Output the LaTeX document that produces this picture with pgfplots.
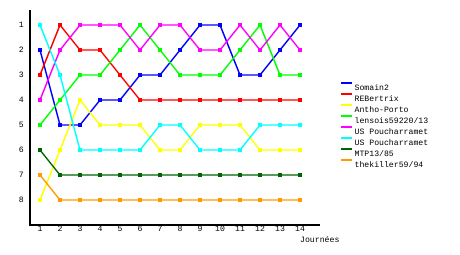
\documentclass[border=0pt]{standalone}
\usepackage{fontspec}
\setmainfont{Liberation Mono}
\usepackage{pgfplots}
\pgfplotsset{compat=1.18}
\definecolor{cBlue}{RGB}{0,0,255}
\definecolor{cRed}{RGB}{255,0,0}
\definecolor{cYellow}{RGB}{255,255,0}
\definecolor{cGreen}{RGB}{0,255,0}
\definecolor{cMagenta}{RGB}{255,0,255}
\definecolor{cCyan}{RGB}{0,255,255}
\definecolor{cDGreen}{RGB}{0,100,0}
\definecolor{cOrange}{RGB}{255,153,0}
\newcommand{\smallfont}{\fontsize{8.2}{10}\selectfont}
\begin{document}
\begin{tikzpicture}
\useasboundingbox (0,0) rectangle (460bp,255bp);
\begin{axis}[
  at={(30bp,30bp)}, anchor=south west,
  scale only axis, width=290bp, height=215bp,
  xmin=0.5, xmax=15, ymin=0.4, ymax=9,
  y dir=reverse,
  clip=false,
  axis line style={draw=none},
  major tick length=0pt,
  tick style={draw=none},
  xtick={1,...,14}, ytick={1,...,8},
  /pgf/number format/assume math mode=true,
  font=\smallfont,
  ticklabel style={font=\smallfont},
  xticklabel style={anchor=base, inner sep=0pt, yshift=-6bp},
  yticklabel style={anchor=base east, inner sep=0pt, xshift=-6bp, yshift=-2.5bp},
  xlabel={Journées},
  xlabel style={at={(axis description cs:0.931,0)}, anchor=base west, inner sep=0pt, yshift=-17bp, font=\smallfont},
  every axis plot/.append style={line width=1.4bp, mark=square*, mark size=1.4bp},
  legend style={at={(axis description cs:1.0586,0.674)}, anchor=north west, draw=none, fill=none,
    font=\smallfont, row sep=0pt,
    nodes={font=\smallfont, inner sep=1.5bp, text height=6bp, text depth=1bp}},
  legend cell align=left,
  legend image code/.code={\draw[#1, line width=2bp, mark=none] (0bp,5bp) -- (11bp,5bp);},
]
\addplot[cBlue] coordinates {(1,2)(2,5)(3,5)(4,4)(5,4)(6,3)(7,3)(8,2)(9,1)(10,1)(11,3)(12,3)(13,2)(14,1)};
\addlegendentry{Somain2}
\addplot[cRed] coordinates {(1,3)(2,1)(3,2)(4,2)(5,3)(6,4)(7,4)(8,4)(9,4)(10,4)(11,4)(12,4)(13,4)(14,4)};
\addlegendentry{REBertrix}
\addplot[cYellow] coordinates {(1,8)(2,6)(3,4)(4,5)(5,5)(6,5)(7,6)(8,6)(9,5)(10,5)(11,5)(12,6)(13,6)(14,6)};
\addlegendentry{Antho-Porto}
\addplot[cGreen] coordinates {(1,5)(2,4)(3,3)(4,3)(5,2)(6,1)(7,2)(8,3)(9,3)(10,3)(11,2)(12,1)(13,3)(14,3)};
\addlegendentry{lensois59220/13}
\addplot[cMagenta] coordinates {(1,4)(2,2)(3,1)(4,1)(5,1)(6,2)(7,1)(8,1)(9,2)(10,2)(11,1)(12,2)(13,1)(14,2)};
\addlegendentry{US Poucharramet}
\addplot[cCyan] coordinates {(1,1)(2,3)(3,6)(4,6)(5,6)(6,6)(7,5)(8,5)(9,6)(10,6)(11,6)(12,5)(13,5)(14,5)};
\addlegendentry{US Poucharramet}
\addplot[cDGreen] coordinates {(1,6)(2,7)(3,7)(4,7)(5,7)(6,7)(7,7)(8,7)(9,7)(10,7)(11,7)(12,7)(13,7)(14,7)};
\addlegendentry{MTP13/85}
\addplot[cOrange] coordinates {(1,7)(2,8)(3,8)(4,8)(5,8)(6,8)(7,8)(8,8)(9,8)(10,8)(11,8)(12,8)(13,8)(14,8)};
\addlegendentry{thekiller59/94}
\draw[black, line width=1.5bp] (axis cs:0.5,0.4) -- (axis cs:0.5,9) -- (axis cs:15,9);
\end{axis}
\end{tikzpicture}
\end{document}
